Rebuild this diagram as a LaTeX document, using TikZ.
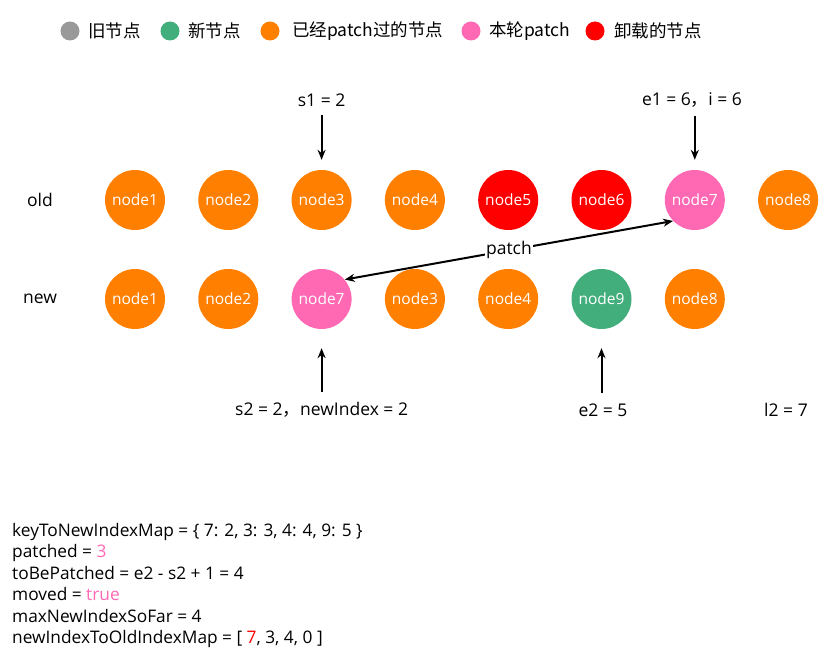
\documentclass[tikz,border=0pt]{standalone}
\usepackage{fontspec}
\setmainfont{Open Sans}
\newfontfamily\cjk{Noto Sans CJK SC}
\usetikzlibrary{arrows.meta}
\definecolor{cgray}{HTML}{999999}
\definecolor{cgreen}{HTML}{41AE7C}
\definecolor{corange}{HTML}{FF8000}
\definecolor{cpink}{HTML}{FF69B4}
\definecolor{cred}{HTML}{FF0000}
\tikzset{
  nd/.style={circle, minimum size=60pt, inner sep=0pt, text=white, font=\fontsize{15.5}{17}\selectfont},
  lg/.style={circle, minimum size=19pt, inner sep=0pt},
  lgt/.style={anchor=west, inner sep=0pt, font=\cjk\fontsize{17.5}{19}\selectfont},
  lbl/.style={inner sep=0pt, font=\fontsize{17.5}{20}\selectfont},
  arr/.style={-{Stealth[length=10pt,width=8pt]}, line width=2pt},
  darr/.style={{Stealth[length=10pt,width=8pt]}-{Stealth[length=10pt,width=8pt]}, line width=2pt},
}
\begin{document}
\begin{tikzpicture}[x=1pt,y=-1pt]
\useasboundingbox (0,0) rectangle (831,666);
% legend
\node[lg, fill=cgray] (lg1) at (70,31) {};
\node[lgt] (lt1) at (88,31) {旧节点};
\node[lg, fill=cgreen] (lg2) at (170,31) {};
\node[lgt] (lt2) at (188,31) {新节点};
\node[lg, fill=corange] (lg3) at (270,31) {};
\node[lgt] (lt3) at (292,31) {已经patch过的节点};
\node[lg, fill=cpink] (lg4) at (471,31) {};
\node[lgt] (lt4) at (489,31) {本轮patch};
\node[lg, fill=cred] (lg5) at (595,31) {};
\node[lgt] (lt5) at (614,31) {卸载的节点};
% row labels
\node[lbl] (oldl) at (40,200) {old};
\node[lbl] (newl) at (40,299) {new};
% old row
\node[nd, fill=corange] (o1) at (135,200) {node1};
\node[nd, fill=corange] (o2) at (228.3,200) {node2};
\node[nd, fill=corange] (o3) at (321.6,200) {node3};
\node[nd, fill=corange] (o4) at (414.9,200) {node4};
\node[nd, fill=cred] (o5) at (508.2,200) {node5};
\node[nd, fill=cred] (o6) at (601.5,200) {node6};
\node[nd, fill=cpink] (o7) at (694.8,200) {node7};
\node[nd, fill=corange] (o8) at (788.1,200) {node8};
% new row
\node[nd, fill=corange] (n1) at (135,299) {node1};
\node[nd, fill=corange] (n2) at (228.3,299) {node2};
\node[nd, fill=cpink] (n3) at (321.6,299) {node7};
\node[nd, fill=corange] (n4) at (414.9,299) {node3};
\node[nd, fill=corange] (n5) at (508.2,299) {node4};
\node[nd, fill=cgreen] (n6) at (601.5,299) {node9};
\node[nd, fill=corange] (n7) at (694.8,299) {node8};
% top labels
\node[lbl] (s1) at (321.6,100) {s1 = 2};
\node[lbl] (e1) at (692,100) {e1 = 6{\cjk ，}i = 6};
\draw[arr, shorten <=8pt, shorten >=10pt] (s1.south -| o3.north) -- (o3.north);
\draw[arr, shorten <=8pt, shorten >=10pt] (e1.south -| o7.north) -- (o7.north);
% bottom labels
\node[lbl] (s2) at (321.6,410) {s2 = 2{\cjk ，}newIndex = 2};
\node[lbl] (e2) at (603,410) {e2 = 5};
\node[lbl] (l2) at (786,410) {l2 = 7};
\draw[arr, shorten <=10pt, shorten >=19pt] (s2.north -| n3.south) -- (n3.south);
\draw[arr, shorten <=10pt, shorten >=19pt] (e2.north -| n6.south) -- (n6.south);
% patch arrow
\draw[darr] (n3.40) -- node[fill=white, inner sep=1pt, font=\fontsize{17.5}{20}\selectfont] (pl) {patch} (o7.224);
% bottom text
\node[anchor=west, align=left, inner sep=0pt, font=\fontsize{17.3}{21.5}\selectfont] (info) at (12,585.5) {%
keyToNewIndexMap = \{ 7: 2, 3: 3, 4: 4, 9: 5 \}\\
patched = \textcolor{cpink}{3}\\
toBePatched = e2 - s2 + 1 = 4\\
moved = \textcolor{cpink}{true}\\
maxNewIndexSoFar = 4\\
newIndexToOldIndexMap = [ \textcolor{cred}{7}, 3, 4, 0 ]};
\end{tikzpicture}
\end{document}
